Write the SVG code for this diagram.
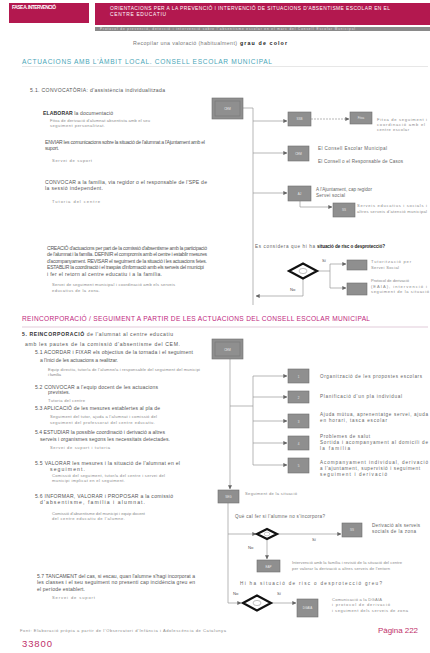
<svg xmlns="http://www.w3.org/2000/svg" width="430" height="653" viewBox="0 0 430 653">
<style>
text{font-family:"Liberation Sans",Arial,sans-serif}
.t{font-size:5.1px;fill:#555}
.s{font-size:4.1px;fill:#8a8a8a}
.b{font-weight:bold;fill:#333}
.r{font-size:4.6px;fill:#666}
.lbl{font-size:4.2px;fill:#555}
.bx{fill:#8f8f8f;stroke:#6f6f6f;stroke-width:0.6}
.bt{font-size:3px;fill:#e8e8e8;text-anchor:middle}
.c{fill:none;stroke:#9a9a9a;stroke-width:0.7}
.a{marker-end:url(#ah)}
.dm{fill:#fff;stroke:#111;stroke-width:2.2;stroke-linejoin:miter}
.wh{font-size:4.9px;fill:#fff}
</style>
<defs>
<marker id="ah" viewBox="0 0 6 6" refX="5.5" refY="3" markerWidth="4" markerHeight="4" orient="auto" markerUnits="userSpaceOnUse">
<path d="M0,0 L6,3 L0,6 z" fill="#666"/>
</marker>
</defs>
<rect width="430" height="653" fill="#fff"/>

<g id="header">
<rect x="9" y="3" width="80" height="20" fill="#b3184f"/>
<text class="wh" x="12" y="8.5" style="font-weight:bold" textLength="44">FASE A. INTERVENCIÓ</text>
<rect x="95" y="3" width="335" height="22" fill="#b3184f"/>
<text class="wh" x="110" y="9.5" textLength="280">ORIENTACIONS PER A LA PREVENCIÓ I INTERVENCIÓ DE SITUACIONS D'ABSENTISME ESCOLAR EN EL</text>
<text class="wh" x="110" y="15.5" textLength="56">CENTRE EDUCATIU</text>
<rect x="95" y="27" width="335" height="4" fill="#8a8a8a"/>
<text x="100" y="30.2" style="font-size:3px;fill:#e0e0e0" textLength="255">Protocol de prevenció, detecció i intervenció sobre l'absentisme escolar en el marc del Consell Escolar Municipal</text>
<text x="133" y="44.5" style="font-size:5.3px;fill:#777" textLength="104">Recopilar una valoració (habitualment)</text>
<text x="240" y="44.5" style="font-size:5.3px;fill:#222;font-weight:bold" textLength="47">grau de color</text>
</g>

<g id="section1-title">
<text x="22" y="63.5" style="font-size:6.6px;fill:#4aa6b8" textLength="250">ACTUACIONS AMB L'ÀMBIT LOCAL. CONSELL ESCOLAR MUNICIPAL</text>
<line x1="22" y1="66.5" x2="428" y2="66.5" stroke="#d6d6d6" stroke-width="0.6"/>
</g>

<g id="section1-left">
<text class="t" x="30" y="91.5" textLength="135">5.1. CONVOCATÒRIA: d'assistència individualitzada</text>
<text class="t" x="43" y="114.5" textLength="70"><tspan class="b">ELABORAR</tspan> la documentació</text>
<text class="s" x="50" y="121.5" textLength="100">Fitxa de derivació d'alumnat absentista amb el seu</text>
<text class="s" x="50" y="126.5" textLength="55">seguiment personalitzat.</text>
<text class="t" x="45" y="144" textLength="160">ENVIAR les comunicacions sobre la situació de l'alumnat a l'Ajuntament amb el</text>
<text class="t" x="45" y="150" textLength="14">suport.</text>
<text class="s" x="52" y="161.5" textLength="40">Servei de suport</text>
<text class="t" x="45" y="183.5" textLength="162">CONVOCAR a la família, via regidor o el responsable de l'SPE de</text>
<text class="t" x="45" y="189.5" textLength="58">la sessió independent.</text>
<text class="s" x="52" y="203" textLength="48">Tutoria del centre</text>
<text class="t" x="47" y="249.5" textLength="160">CREACIÓ d'actuacions per part de la comissió d'absentisme amb la participació</text>
<text class="t" x="47" y="256" textLength="160">de l'alumnat i la família. DEFINIR el compromís amb el centre i establir mesures</text>
<text class="t" x="47" y="262.5" textLength="160">d'acompanyament. REVISAR el seguiment de la situació i les actuacions fetes.</text>
<text class="t" x="47" y="269" textLength="157">ESTABLIR la coordinació i el traspàs d'informació amb els serveis del municipi</text>
<text class="t" x="47" y="275.5" textLength="115">i fer el retorn al centre educatiu i a la família.</text>
<text class="s" x="52" y="286" textLength="123">Servei de seguiment municipal i coordinació amb els serveis</text>
<text class="s" x="52" y="291.5" textLength="48">educatius de la zona.</text>
</g>

<g id="section2-title">
<text x="22" y="321" style="font-size:6.6px;fill:#c0267e" textLength="348">REINCORPORACIÓ / SEGUIMENT A PARTIR DE LES ACTUACIONS DEL CONSELL ESCOLAR MUNICIPAL</text>
<line x1="22" y1="327" x2="428" y2="327" stroke="#cfa9bf" stroke-width="0.6"/>
</g>

<g id="section2-left">
<text class="t" x="22" y="336" textLength="151"><tspan class="b">5. REINCORPORACIÓ</tspan> de l'alumnat al centre educatiu</text>
<text class="t" x="25" y="345.5" textLength="155">amb les pautes de la comissió d'absentisme del CEM.</text>
<text class="t" x="35" y="354" textLength="158">5.1 ACORDAR i FIXAR els objectius de la tornada i el seguiment</text>
<text class="t" x="40" y="362" textLength="78">a l'inici de les actuacions a realitzar.</text>
<text class="s" x="48" y="370.5" textLength="152">Equip directiu, tutor/a de l'alumne/a i responsable del seguiment del municipi</text>
<text class="s" x="48" y="376" textLength="13">i família</text>
<text class="t" x="35" y="388.5" textLength="123">5.2 CONVOCAR a l'equip docent de les actuacions</text>
<text class="t" x="48" y="394" textLength="22">previstes.</text>
<text class="s" x="48" y="402" textLength="37">Tutoria del centre</text>
<text class="t" x="35" y="410" textLength="125">5.3 APLICACIÓ de les mesures establertes al pla de</text>
<text class="s" x="50" y="417.5" textLength="107">Seguiment del tutor, ajuda a l'alumnat i comissió del</text>
<text class="s" x="50" y="423.5" textLength="105">seguiment del professorat del centre educatiu.</text>
<text class="t" x="35" y="433.5" textLength="130">5.4 ESTUDIAR la possible coordinació i derivació a altres</text>
<text class="t" x="40" y="441" textLength="130">serveis i organismes segons les necessitats detectades.</text>
<text class="s" x="50" y="449" textLength="60">Servei de suport i tutoria</text>
<text class="t" x="35" y="464.5" textLength="145">5.5 VALORAR les mesures i la situació de l'alumnat en el</text>
<text class="t" x="50" y="470.5" textLength="35">seguiment.</text>
<text class="s" x="52" y="476.5" textLength="113">Comissió del seguiment, tutor/a del centre i servei del</text>
<text class="s" x="52" y="482" textLength="73">municipi implicat en el seguiment.</text>
<text class="t" x="35" y="497.5" textLength="138">5.6 INFORMAR, VALORAR i PROPOSAR a la comissió</text>
<text class="t" x="40" y="503.5" textLength="105">d'absentisme, família i alumnat.</text>
<text class="s" x="52" y="514.5" textLength="93">Comissió d'absentisme del municipi i equip docent</text>
<text class="s" x="52" y="520" textLength="73">del centre educatiu de l'alumne.</text>
<text class="t" x="37" y="577.5" textLength="158">5.7 TANCAMENT del cas, si escau, quan l'alumne s'hagi incorporat a</text>
<text class="t" x="37" y="584" textLength="158">les classes i el seu seguiment no presenti cap incidència greu en</text>
<text class="t" x="37" y="590.5" textLength="48">el període establert.</text>
<text class="s" x="52" y="598.5" textLength="43">Servei de suport</text>
</g>

<g id="footer">
<text class="s" x="20" y="631.5" textLength="206">Font: Elaboració pròpia a partir de l'Observatori d'Infància i Adolescència de Catalunya</text>
<text x="22" y="647" style="font-size:9.5px;fill:#c0306a" textLength="30">33800</text>
<text x="378" y="633" style="font-size:8px;fill:#c0306a" textLength="40">Pàgina 222</text>
</g>

<g id="connectors">
<path class="c" d="M243,108 H253 V305"/>
<path class="c a" d="M253,121 H287"/>
<path class="c a" d="M253,153 H287"/>
<path class="c a" d="M253,193 H287"/>
<path class="c a" d="M311,119 H349" stroke-dasharray="2,1"/>
<path class="c a" d="M300,201 V207 H332"/>
<path class="c a" d="M303,279 V296 H256"/>
<path class="c" d="M317,271 H330 M330,264 V288"/>
<path class="c a" d="M330,264 H346"/>
<path class="c a" d="M330,288 H346"/>
<path class="c a" d="M230,359 V489"/>
<path class="c" d="M230,406 H253 M253,376 V465"/>
<path class="c a" d="M253,376 H287"/>
<path class="c a" d="M253,397 H287"/>
<path class="c a" d="M253,421 H287"/>
<path class="c a" d="M253,443 H287"/>
<path class="c a" d="M253,465 H287"/>
<path class="c a" d="M228,503 V603 H241"/>
<path class="c a" d="M228,534 H256"/>
<path class="c a" d="M278,534 H341"/>
<path class="c a" d="M267,540 V559"/>
<path class="c a" d="M271,603 H296"/>
</g>

<g id="n-s1-main">
<rect class="bx" x="212" y="98" width="31" height="21" fill="#8a8a8a"/>
<rect x="215" y="101" width="25" height="15" fill="none" stroke="#777" stroke-width="0.6"/>
<text class="bt" x="227.5" y="110">CEM</text>
</g>
<g id="n-s1-b1">
<rect class="bx" x="288" y="112" width="23" height="14"/>
<text class="bt" x="299.5" y="120">SSB</text>
</g>
<g id="n-s1-b1a">
<rect class="bx" x="350" y="112" width="22" height="12"/>
<text class="bt" x="361" y="119">Fitxa</text>
<text class="s" x="377" y="121" textLength="50">Fitxa de seguiment i</text>
<text class="s" x="377" y="126" textLength="48">coordinació amb el</text>
<text class="s" x="377" y="131" textLength="32">centre escolar</text>
</g>
<g id="n-s1-b2">
<rect class="bx" x="288" y="146" width="21" height="15"/>
<text class="bt" x="298.5" y="154.5">CEM</text>
<text class="r" x="318" y="150" textLength="69">El Consell Escolar Municipal</text>
<text class="r" x="318" y="162.5" textLength="85">El Consell o el Responsable de Casos</text>
</g>
<g id="n-s1-b3">
<rect class="bx" x="288" y="186" width="23" height="15"/>
<text class="bt" x="299.5" y="194.5">AJ</text>
<text class="r" x="316" y="191" textLength="56">A l'Ajuntament, cap regidor</text>
<text class="r" x="316" y="197" textLength="29">Servei social</text>
</g>
<g id="n-s1-b3a">
<rect class="bx" x="333" y="203" width="22" height="14"/>
<text class="bt" x="344" y="211">SS</text>
<text class="s" x="357" y="207" textLength="70">Serveis educatius i socials i</text>
<text class="s" x="357" y="212.5" textLength="70">altres serveis d'atenció municipal</text>
</g>
<g id="n-s1-q">
<text class="r" x="255" y="248" textLength="60">Es considera que hi ha</text>
<text class="r" x="317" y="248" style="font-weight:bold;fill:#222" textLength="68">situació de risc o desprotecció?</text>
<polygon class="dm" points="289,271 303,263.5 317,271 303,278.5"/>
<ellipse cx="303" cy="271" rx="4" ry="2.6" fill="#fff" stroke="#999" stroke-width="0.6"/>
<text class="lbl" x="322" y="262">Sí</text>
<text class="lbl" x="290" y="291">No</text>
</g>
<g id="n-s1-yes1">
<rect class="bx" x="347" y="260" width="20" height="10"/>
<text class="s" x="371" y="263" textLength="40">Tutorització per</text>
<text class="s" x="371" y="268.5" textLength="28">Servei Social</text>
</g>
<g id="n-s1-yes2">
<rect class="bx" x="347" y="283" width="20" height="12"/>
<text class="s" x="371" y="282" textLength="38">Protocol de derivació</text>
<text class="s" x="371" y="287.5" textLength="56">(EAIA), intervenció i</text>
<text class="s" x="371" y="293" textLength="58">seguiment de la situació</text>
</g>

<g id="n-s2-main">
<rect class="bx" x="212" y="339" width="31" height="20" fill="#8a8a8a"/>
<rect x="215" y="342" width="25" height="14" fill="none" stroke="#777" stroke-width="0.6"/>
<text class="bt" x="227.5" y="350.5">CEM</text>
</g>
<g id="n-s2-b1">
<rect class="bx" x="288" y="369" width="21" height="14"/>
<text class="bt" x="298.5" y="377.5">1</text>
<text class="r" x="320" y="377.5" textLength="102">Organització de les propostes escolars</text>
</g>
<g id="n-s2-b2">
<rect class="bx" x="288" y="391" width="21" height="12"/>
<text class="bt" x="298.5" y="398.5">2</text>
<text class="r" x="320" y="398" textLength="82">Planificació d'un pla individual</text>
</g>
<g id="n-s2-b3">
<rect class="bx" x="288" y="414" width="21" height="14"/>
<text class="bt" x="298.5" y="422.5">3</text>
<text class="r" x="320" y="416" textLength="108">Ajuda mútua, aprenentatge servei, ajuda</text>
<text class="r" x="320" y="422" textLength="67">en horari, tasca escolar</text>
</g>
<g id="n-s2-b4">
<rect class="bx" x="288" y="436" width="21" height="14"/>
<text class="bt" x="298.5" y="444.5">4</text>
<text class="r" x="320" y="438" textLength="50">Problemes de salut</text>
<text class="r" x="320" y="444" textLength="108">Sortida i acompanyament al domicili de</text>
<text class="r" x="320" y="450" textLength="30">la família</text>
</g>
<g id="n-s2-b5">
<rect class="bx" x="288" y="458" width="21" height="15"/>
<text class="bt" x="298.5" y="467">5</text>
<text class="r" x="320" y="463.5" textLength="108">Acompanyament individual, derivació</text>
<text class="r" x="320" y="469.5" textLength="100">a l'ajuntament, supervisió i seguiment</text>
<text class="r" x="320" y="475.5" textLength="67">seguiment i derivació</text>
</g>
<g id="n-s2-seg">
<rect class="bx" x="218" y="490" width="21" height="13"/>
<text class="bt" x="228.5" y="498">SEG</text>
<text class="s" x="245" y="495" textLength="52">Seguiment de la situació</text>
</g>
<g id="n-s2-q1">
<text class="r" x="235" y="518" textLength="90">Què cal fer si l'alumne no s'incorpora?</text>
<polygon class="dm" points="257,534 267,529 277,534 267,539"/>
<ellipse cx="267" cy="534" rx="2.8" ry="1.8" fill="#fff" stroke="#999" stroke-width="0.5"/>
<text class="lbl" x="312" y="541">Sí</text>
<text class="lbl" x="248" y="549">No</text>
</g>
<g id="n-s2-der">
<rect class="bx" x="342" y="523" width="20" height="14"/>
<text class="bt" x="352" y="531">SS</text>
<text class="r" x="372" y="526.5" textLength="48">Derivació als serveis</text>
<text class="r" x="372" y="532.5" textLength="44">socials de la zona</text>
</g>
<g id="n-s2-no">
<rect class="bx" x="257" y="560" width="23" height="12"/>
<text class="bt" x="268.5" y="567.5">EAP</text>
<text class="s" x="292" y="564" textLength="110">Intervenció amb la família i revisió de la situació del centre</text>
<text class="s" x="292" y="569.5" textLength="98">per valorar la derivació a altres serveis de l'entorn</text>
</g>
<g id="n-s2-q2">
<text class="r" x="240" y="585" textLength="142">Hi ha situació de risc o desprotecció greu?</text>
<polygon class="dm" points="243,603 257,595.5 271,603 257,610.5"/>
<ellipse cx="257" cy="603" rx="4" ry="2.6" fill="#fff" stroke="#999" stroke-width="0.6"/>
<text class="lbl" x="233" y="594.5">No</text>
<text class="lbl" x="277" y="594.5">Sí</text>
</g>
<g id="n-s2-yes">
<rect class="bx" x="297" y="599" width="21" height="18"/>
<text class="bt" x="307.5" y="609">DGAIA</text>
<text class="s" x="332" y="600.5" textLength="50">Comunicació a la DGAIA</text>
<text class="s" x="332" y="606" textLength="58">i protocol de derivació</text>
<text class="s" x="332" y="611.5" textLength="76">i seguiment dels serveis de zona</text>
</g>
</svg>
